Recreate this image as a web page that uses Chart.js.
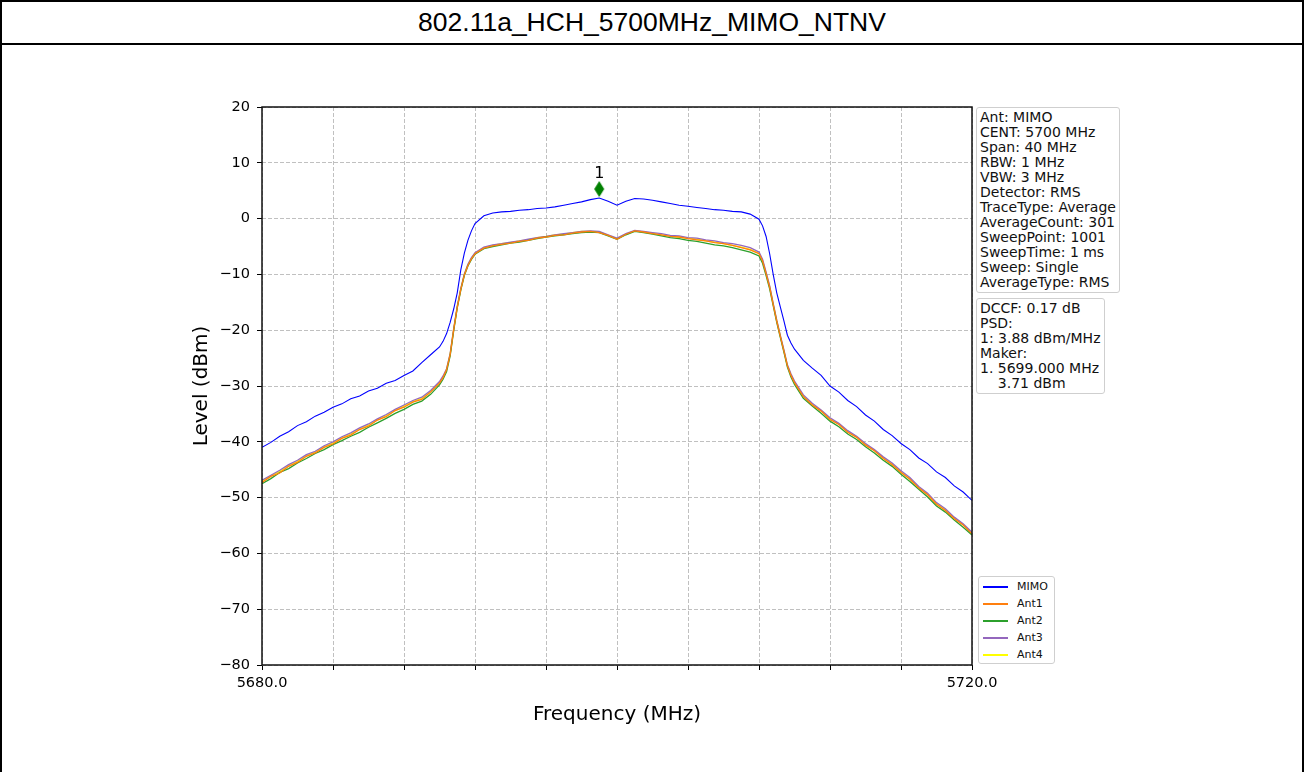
<!DOCTYPE html>
<html>
<head>
<meta charset="utf-8">
<script src="https://cdn.jsdelivr.net/npm/chart.js@4.4.1/dist/chart.umd.min.js"></script>
<style>
  body { margin: 0; background: #fff; }
  #frame {
    position: absolute; left: 0; top: 0;
    width: 1300px; height: 800px;
    border: 2px solid #000;
  }
  #title {
    height: 41px; line-height: 41px;
    border-bottom: 2px solid #000;
    text-align: center;
    font-family: "Liberation Sans", Arial, sans-serif;
    font-size: 26.5px;
    color: #000;
  }
  #plot { position: relative; width: 1300px; height: 727px; }
  .box {
    position: absolute;
    border: 1px solid #cfcfcf;
    border-radius: 3px;
    background: #fff;
    font-family: "DejaVu Sans", sans-serif;
    font-size: 14px;
    line-height: 15px;
    padding: 2px 3px 2px 3px;
    white-space: pre;
    color: #111;
  }
  #legend { font-size: 11px; line-height: 18px; padding: 1px 6px 0 4px; }
  #legend .row { display: flex; align-items: center; height: 17px; }
  #legend .swatch { width: 25px; height: 2px; margin-right: 9px; }
</style>
</head>
<body>
<div id="frame">
  <div id="title">802.11a_HCH_5700MHz_MIMO_NTNV</div>
  <div id="plot">
    <canvas id="chart" width="1300" height="727"></canvas>
    <div class="box" id="info" style="left:974px; top:62px;"></div>
    <div class="box" id="psd" style="left:974px; top:253px;"></div>
    <div class="box" id="legend" style="left:976px; top:531px;"></div>
  </div>
</div>

<script>
// frequency points (MHz)
const freqMHz = [
  5680, 5680.5, 5681, 5681.5, 5682, 5682.5, 5683, 5683.5, 5684, 5684.5,
  5685, 5685.5, 5686, 5686.5, 5687, 5687.5, 5688, 5688.5, 5689, 5689.5, 5690,
  5690.2, 5690.4, 5690.6, 5690.8, 5691, 5691.2, 5691.4, 5691.6, 5691.8, 5692,
  5692.5, 5693, 5693.5, 5694, 5694.5, 5695, 5695.5, 5696, 5696.5, 5697,
  5697.5, 5698, 5698.5, 5699, 5699.5, 5700, 5700.5, 5701, 5701.5, 5702,
  5702.5, 5703, 5703.5, 5704, 5704.5, 5705, 5705.5, 5706, 5706.5, 5707, 5707.5, 5708,
  5708.2, 5708.4, 5708.6, 5708.8, 5709, 5709.2, 5709.4, 5709.6, 5709.8, 5710,
  5710.5, 5711, 5711.5, 5712, 5712.5, 5713, 5713.5, 5714, 5714.5, 5715,
  5715.5, 5716, 5716.5, 5717, 5717.5, 5718, 5718.5, 5719, 5719.5, 5720
];

// levels (dBm)
const levelMIMO = [
  -41.0, -40.1, -39.0, -38.2, -37.1, -36.4, -35.4, -34.7, -33.8, -33.2,
  -32.3, -31.8, -30.9, -30.4, -29.5, -29.0, -28.1, -27.3, -25.8, -24.4, -23.0,
  -22.0, -20.6, -18.6, -16.2, -13.3, -9.2, -6.2, -3.9, -2.2, -0.9,
  0.5, 1.0, 1.2, 1.3, 1.5, 1.6, 1.8, 1.9, 2.1, 2.4,
  2.7, 3.0, 3.4, 3.7, 3.1, 2.4, 3.1, 3.6, 3.5, 3.3,
  3.0, 2.7, 2.4, 2.2, 2.0, 1.8, 1.6, 1.5, 1.3, 1.2, 0.8, -0.1,
  -1.3, -3.2, -6.3, -10.0, -13.3, -15.8, -18.3, -20.9, -22.3, -23.4,
  -25.4, -26.8, -28.1, -30.0, -31.1, -32.6, -33.7, -35.2, -36.3, -37.8,
  -38.9, -40.3, -41.4, -42.9, -43.9, -45.4, -46.4, -47.9, -49.0, -50.5
];
const levelAnt1 = [
  -47.3, -46.2, -45.6, -44.4, -43.7, -42.6, -42.0, -41.0, -40.4, -39.4,
  -38.8, -37.8, -37.2, -36.1, -35.5, -34.4, -33.8, -32.9, -32.4, -31.1, -29.5,
  -28.5, -27.1, -24.4, -19.9, -15.9, -12.7, -10.1, -8.4, -7.2, -6.3,
  -5.3, -4.9, -4.6, -4.4, -4.1, -3.9, -3.5, -3.3, -3.0, -2.9,
  -2.6, -2.4, -2.3, -2.5, -3.0, -3.7, -2.8, -2.2, -2.4, -2.7,
  -2.9, -3.2, -3.3, -3.6, -3.8, -4.0, -4.3, -4.5, -4.8, -5.2, -5.6, -6.3,
  -7.6, -9.9, -12.3, -15.4, -18.4, -21.1, -23.7, -26.4, -28.1, -29.4,
  -31.9, -33.4, -34.5, -36.0, -36.9, -38.3, -39.2, -40.6, -41.6, -43.0,
  -44.1, -45.5, -46.7, -48.3, -49.5, -51.2, -52.3, -53.8, -54.9, -56.5
];
const levelAnt2 = [
  -47.5, -46.6, -45.5, -44.8, -43.8, -43.0, -42.1, -41.4, -40.5, -39.8,
  -39.0, -38.3, -37.4, -36.6, -35.8, -34.9, -34.2, -33.3, -32.7, -31.5, -29.8,
  -28.8, -27.4, -24.6, -20.1, -16.0, -12.8, -10.2, -8.5, -7.3, -6.4,
  -5.4, -5.0, -4.7, -4.4, -4.2, -3.9, -3.6, -3.3, -3.1, -2.9,
  -2.7, -2.5, -2.4, -2.5, -3.1, -3.7, -2.9, -2.3, -2.5, -2.8,
  -3.1, -3.4, -3.6, -3.9, -4.1, -4.4, -4.7, -4.9, -5.2, -5.6, -6.0, -6.7,
  -8.0, -10.2, -12.6, -15.6, -18.6, -21.3, -23.9, -26.6, -28.4, -29.7,
  -32.2, -33.6, -34.9, -36.3, -37.3, -38.6, -39.6, -40.9, -42.0, -43.3,
  -44.4, -45.8, -47.1, -48.5, -49.9, -51.5, -52.6, -54.0, -55.3, -56.7
];
const levelAnt3 = [
  -46.9, -46.0, -45.1, -44.1, -43.3, -42.3, -41.7, -40.7, -40.0, -39.1,
  -38.4, -37.5, -36.8, -35.9, -35.1, -34.2, -33.4, -32.6, -32.0, -30.8, -29.2,
  -28.2, -26.9, -24.2, -19.7, -15.7, -12.5, -9.9, -8.2, -7.0, -6.1,
  -5.1, -4.7, -4.5, -4.2, -4.0, -3.7, -3.4, -3.2, -2.9, -2.7,
  -2.5, -2.3, -2.2, -2.3, -2.9, -3.5, -2.7, -2.1, -2.3, -2.5,
  -2.7, -3.0, -3.1, -3.4, -3.5, -3.8, -4.0, -4.3, -4.5, -4.8, -5.2, -6.0,
  -7.3, -9.6, -12.0, -15.2, -18.2, -20.9, -23.5, -26.2, -27.8, -29.1,
  -31.6, -33.1, -34.3, -35.7, -36.7, -38.0, -39.0, -40.3, -41.4, -42.7,
  -43.8, -45.2, -46.4, -48.0, -49.2, -50.9, -52.0, -53.5, -54.7, -56.2
];
const levelAnt4 = [
  -47.0, -46.1, -45.3, -44.3, -43.5, -42.5, -41.8, -40.9, -40.2, -39.3,
  -38.6, -37.7, -37.0, -36.1, -35.3, -34.4, -33.6, -32.8, -32.2, -31.0, -29.4,
  -28.4, -27.0, -24.3, -19.8, -15.8, -12.6, -10.0, -8.3, -7.1, -6.2,
  -5.2, -4.8, -4.5, -4.3, -4.0, -3.8, -3.4, -3.2, -2.9, -2.8,
  -2.5, -2.3, -2.3, -2.4, -3.0, -3.6, -2.8, -2.2, -2.4, -2.6,
  -2.9, -3.1, -3.3, -3.5, -3.7, -4.0, -4.2, -4.5, -4.8, -5.1, -5.5, -6.2,
  -7.5, -9.8, -12.2, -15.3, -18.3, -21.0, -23.6, -26.3, -28.0, -29.3,
  -31.8, -33.3, -34.4, -35.9, -36.8, -38.2, -39.1, -40.5, -41.5, -42.9,
  -44.0, -45.4, -46.6, -48.2, -49.4, -51.1, -52.2, -53.7, -54.8, -56.4
];

const seriesNames = ["MIMO", "Ant1", "Ant2", "Ant3", "Ant4"];
const seriesColors = ["#0000ff", "#ff7f0e", "#2ca02c", "#9467bd", "#ffff00"];

// marker 1
const markerFreq = [5699.0];
const markerLevel = [5.3];
const markerText = ["1"];

// axis
const xLabelTicks = [5680, 5720];
const infoLines = [
  "Ant: MIMO", "CENT: 5700 MHz", "Span: 40 MHz", "RBW: 1 MHz", "VBW: 3 MHz",
  "Detector: RMS", "TraceType: Average", "AverageCount: 301", "SweepPoint: 1001",
  "SweepTime: 1 ms", "Sweep: Single", "AverageType: RMS"
];
const psdLines = [
  "DCCF: 0.17 dB", "PSD:", "1: 3.88 dBm/MHz", "Maker:", "1. 5699.000 MHz", "    3.71 dBm"
];

function toPoints(ys) {
  return freqMHz.map((f, i) => ({ x: f, y: ys[i] }));
}

// diamond marker
const diamond = document.createElement("canvas");
diamond.width = 12;
diamond.height = 18;
const dctx = diamond.getContext("2d");
dctx.fillStyle = "#008000";
dctx.beginPath();
dctx.moveTo(6, 1);
dctx.lineTo(11, 9);
dctx.lineTo(6, 17);
dctx.lineTo(1, 9);
dctx.closePath();
dctx.fill();

const frameBox = {
  id: "frameBox",
  afterDatasetsDraw(chart) {
    const { ctx, chartArea: a, scales } = chart;
    ctx.save();
    ctx.strokeStyle = "#111";
    ctx.lineWidth = 1.5;
    ctx.strokeRect(a.left, a.top, a.right - a.left, a.bottom - a.top);

    // marker labels
    ctx.fillStyle = "#000";
    ctx.font = "16px 'DejaVu Sans'";
    ctx.textAlign = "center";
    ctx.textBaseline = "bottom";
    markerFreq.forEach((f, i) => {
      const px = scales.x.getPixelForValue(f);
      const py = scales.y.getPixelForValue(markerLevel[i]);
      ctx.fillText(markerText[i], px, py - 7);
    });
    ctx.restore();
  },
};

Chart.defaults.font.family = "'DejaVu Sans', sans-serif";
Chart.defaults.color = "#000";

const traces = [levelMIMO, levelAnt1, levelAnt2, levelAnt3, levelAnt4];

const datasets = [
  {
    label: "Marker",
    type: "scatter",
    data: markerFreq.map((f, i) => ({ x: f, y: markerLevel[i] })),
    pointStyle: diamond,
    pointRadius: 6,
  },
].concat(
  traces.map((ys, i) => ({
    label: seriesNames[i],
    data: toPoints(ys),
    borderColor: seriesColors[i],
    borderWidth: i === 0 ? 1.1 : 1.3,
    pointRadius: 0,
    tension: 0,
    fill: false,
  }))
);

const chart = new Chart(document.getElementById("chart"), {
  type: "line",
  data: { datasets },
  options: {
    responsive: false,
    animation: false,
    layout: { padding: { left: 0, top: 62, right: 330, bottom: 0 } },
    plugins: { legend: { display: false }, tooltip: { enabled: false } },
    scales: {
      x: {
        type: "linear",
        min: 5680,
        max: 5720,
        afterFit: (s) => { s.height = 107; },
        ticks: {
          stepSize: 4,
          autoSkip: false,
          maxRotation: 0,
          padding: 5,
          font: { size: 14.5 },
          callback: (v) => (xLabelTicks.includes(v) ? v.toFixed(1) : ""),
        },
        grid: { color: "#b0b0b0", lineWidth: 0.8, tickColor: "#000", tickLength: 5, tickWidth: 1 },
        border: { display: false, dash: [4, 2] },
        title: {
          display: true,
          text: "Frequency (MHz)",
          font: { size: 20 },
          padding: { top: 0, bottom: 45 },
        },
      },
      y: {
        min: -80,
        max: 20,
        afterFit: (s) => { s.width = 260; },
        ticks: {
          stepSize: 10,
          padding: 7,
          font: { size: 14.5 },
          callback: (v) => (v < 0 ? "\u2212" + Math.abs(v) : String(v)),
        },
        grid: { color: "#b0b0b0", lineWidth: 0.8, tickColor: "#000", tickLength: 5, tickWidth: 1 },
        border: { display: false, dash: [4, 2] },
        title: {
          display: true,
          text: "Level (dBm)",
          font: { size: 20 },
          padding: { top: 188, bottom: 0 },
        },
      },
    },
  },
  plugins: [frameBox],
});

// text boxes
document.getElementById("info").textContent = infoLines.join("\n");
document.getElementById("psd").textContent = psdLines.join("\n");

// legend from the chart datasets
const legend = document.getElementById("legend");
chart.data.datasets
  .filter((d) => d.label !== "Marker")
  .forEach((d) => {
    const row = document.createElement("div");
    row.className = "row";
    const sw = document.createElement("span");
    sw.className = "swatch";
    sw.style.background = d.borderColor;
    const name = document.createElement("span");
    name.textContent = d.label;
    row.appendChild(sw);
    row.appendChild(name);
    legend.appendChild(row);
  });
</script>
</body>
</html>
